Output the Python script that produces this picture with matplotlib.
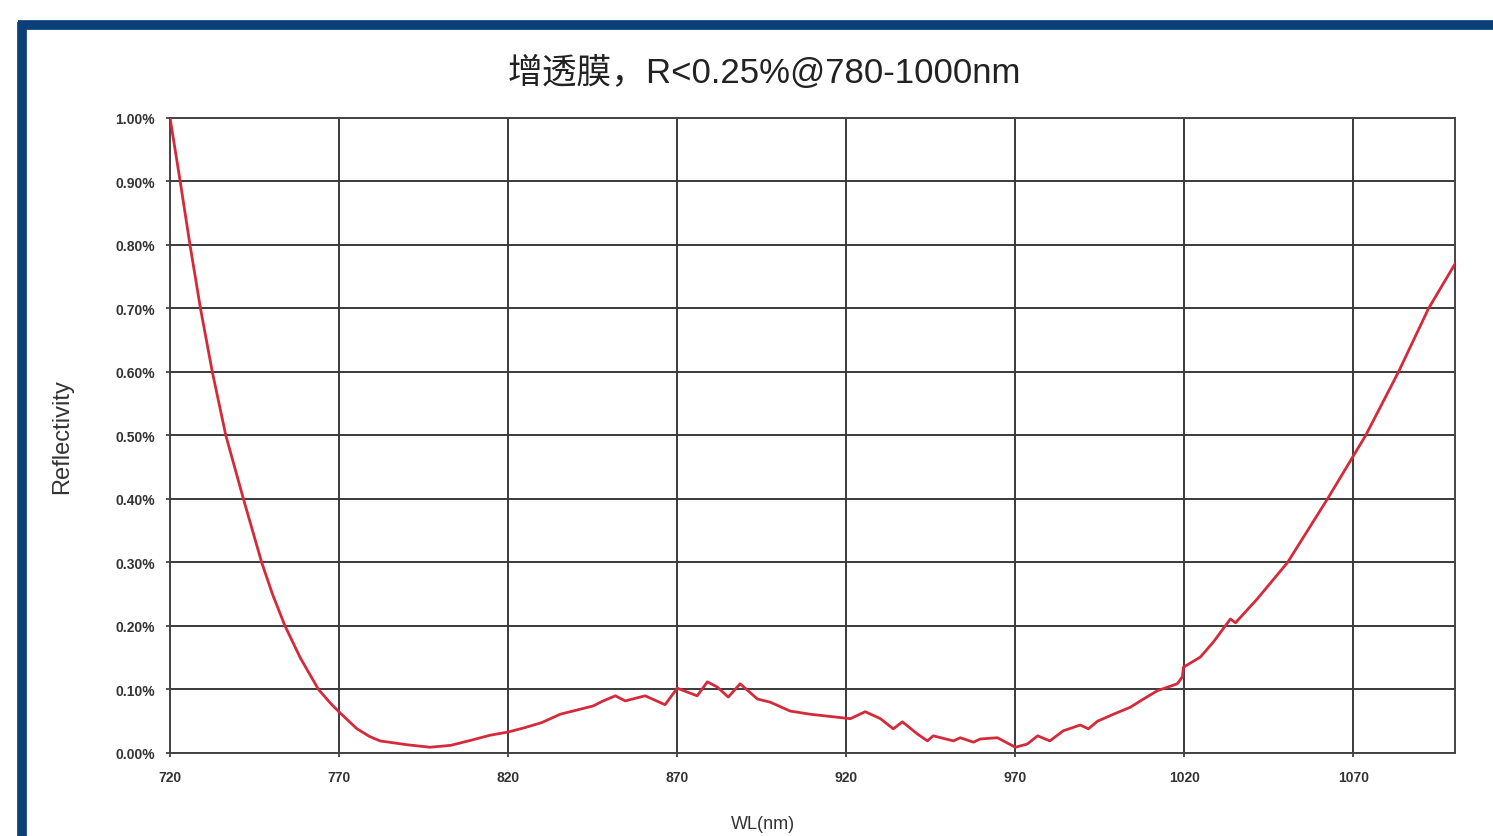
import numpy as np
import matplotlib.pyplot as plt
from matplotlib.lines import Line2D
from matplotlib.ticker import FuncFormatter, MultipleLocator

plt.rcParams['font.family'] = ['Liberation Sans', 'Noto Sans CJK SC', 'DejaVu Sans']

# Measured reflectance curve (wavelength in nm, reflectance in %)
wl = [720, 723.0, 725.9, 729.0, 732.5, 736.5, 741.7, 747.1, 750.3, 754.0,
      758.5, 763.9, 767.5, 770.3, 775.3, 779, 782.1, 790, 796.9, 803,
      809, 814.7, 820, 825, 830, 835.4, 845.1, 848.1, 851.7, 854.6,
      860.5, 866.4, 870, 875.9, 878.9, 881.8, 885.1, 888.6, 893.7, 897.5,
      903.4, 909.3, 914.4, 921.2, 925.6, 930.1, 933.9, 936.6, 941.0, 944.0,
      945.7, 951.7, 953.7, 957.6, 959.6, 964.7, 970.0, 973.5, 976.6, 980.2,
      984.2, 989.2, 991.6, 994.3, 999.0, 1004.0, 1007.9, 1012.0, 1017.9, 1019.4,
      1019.7, 1024.7, 1028.6, 1033.6, 1035.1, 1041.6, 1050.5, 1062.3, 1073.6, 1083.3,
      1092.2, 1100]
refl = [1.00, 0.90, 0.80, 0.70, 0.60, 0.50, 0.40, 0.30, 0.25, 0.20,
        0.15, 0.10, 0.078, 0.063, 0.038, 0.026, 0.019, 0.013, 0.009, 0.012,
        0.02, 0.028, 0.033, 0.040, 0.048, 0.061, 0.074, 0.082, 0.090, 0.082,
        0.090, 0.076, 0.102, 0.090, 0.112, 0.104, 0.088, 0.109, 0.085, 0.080,
        0.066, 0.061, 0.058, 0.054, 0.065, 0.054, 0.038, 0.049, 0.030, 0.019,
        0.027, 0.019, 0.024, 0.017, 0.022, 0.024, 0.009, 0.014, 0.027, 0.019,
        0.035, 0.044, 0.038, 0.050, 0.061, 0.072, 0.085, 0.098, 0.109, 0.120,
        0.135, 0.151, 0.175, 0.211, 0.205, 0.243, 0.30, 0.40, 0.50, 0.60,
        0.70, 0.77]

title = '增透膜，R<0.25%@780-1000nm'

fig = plt.figure(figsize=(14.93, 8.37), dpi=100)
fig.patch.set_facecolor('white')

# blue frame
fig.add_artist(Line2D([0.012, 1.0], [0.969, 0.969], color='#0b3f78', lw=7,
                      transform=fig.transFigure, solid_capstyle='butt'))
fig.add_artist(Line2D([0.0147, 0.0147], [0.0, 0.973], color='#0b3f78', lw=7,
                      transform=fig.transFigure, solid_capstyle='butt'))

ax = fig.add_axes([0.1139, 0.0992, 0.8606, 0.7587])
ax.plot(wl, refl, color='#d42a3a', lw=2.0, zorder=5)

ax.set_xlim(720, 1100)
ax.set_ylim(0, 1.0)
ax.set_xticks(np.arange(720, 1100, 50))
ax.yaxis.set_major_locator(MultipleLocator(0.1))
ax.yaxis.set_major_formatter(FuncFormatter(lambda v, p: '%.2f%%' % v))
ax.grid(which='major', color='#3a3a3a', lw=1.4)
ax.tick_params(which='major', length=3, width=1.2, labelsize=10, color='#333333')
ax.tick_params(axis='x', pad=9)
ax.tick_params(axis='y', pad=8)
for lab in ax.get_xticklabels() + ax.get_yticklabels():
    lab.set_fontweight('bold')
    lab.set_color('#333333')
for s in ax.spines.values():
    s.set_color('#444444')
    s.set_linewidth(1.4)

ax.set_ylabel('Reflectivity', fontsize=17, color='#333333', labelpad=30)
ax.set_xlabel('WL(nm)', fontsize=13, color='#333333')
ax.xaxis.set_label_coords(0.4615, -0.098)
fig.text(0.512, 0.913, title, fontsize=25, ha='center', va='center', color='#222222',
         family=['Liberation Sans', 'Noto Sans CJK SC'])

fig.savefig('out.png', dpi=100)
